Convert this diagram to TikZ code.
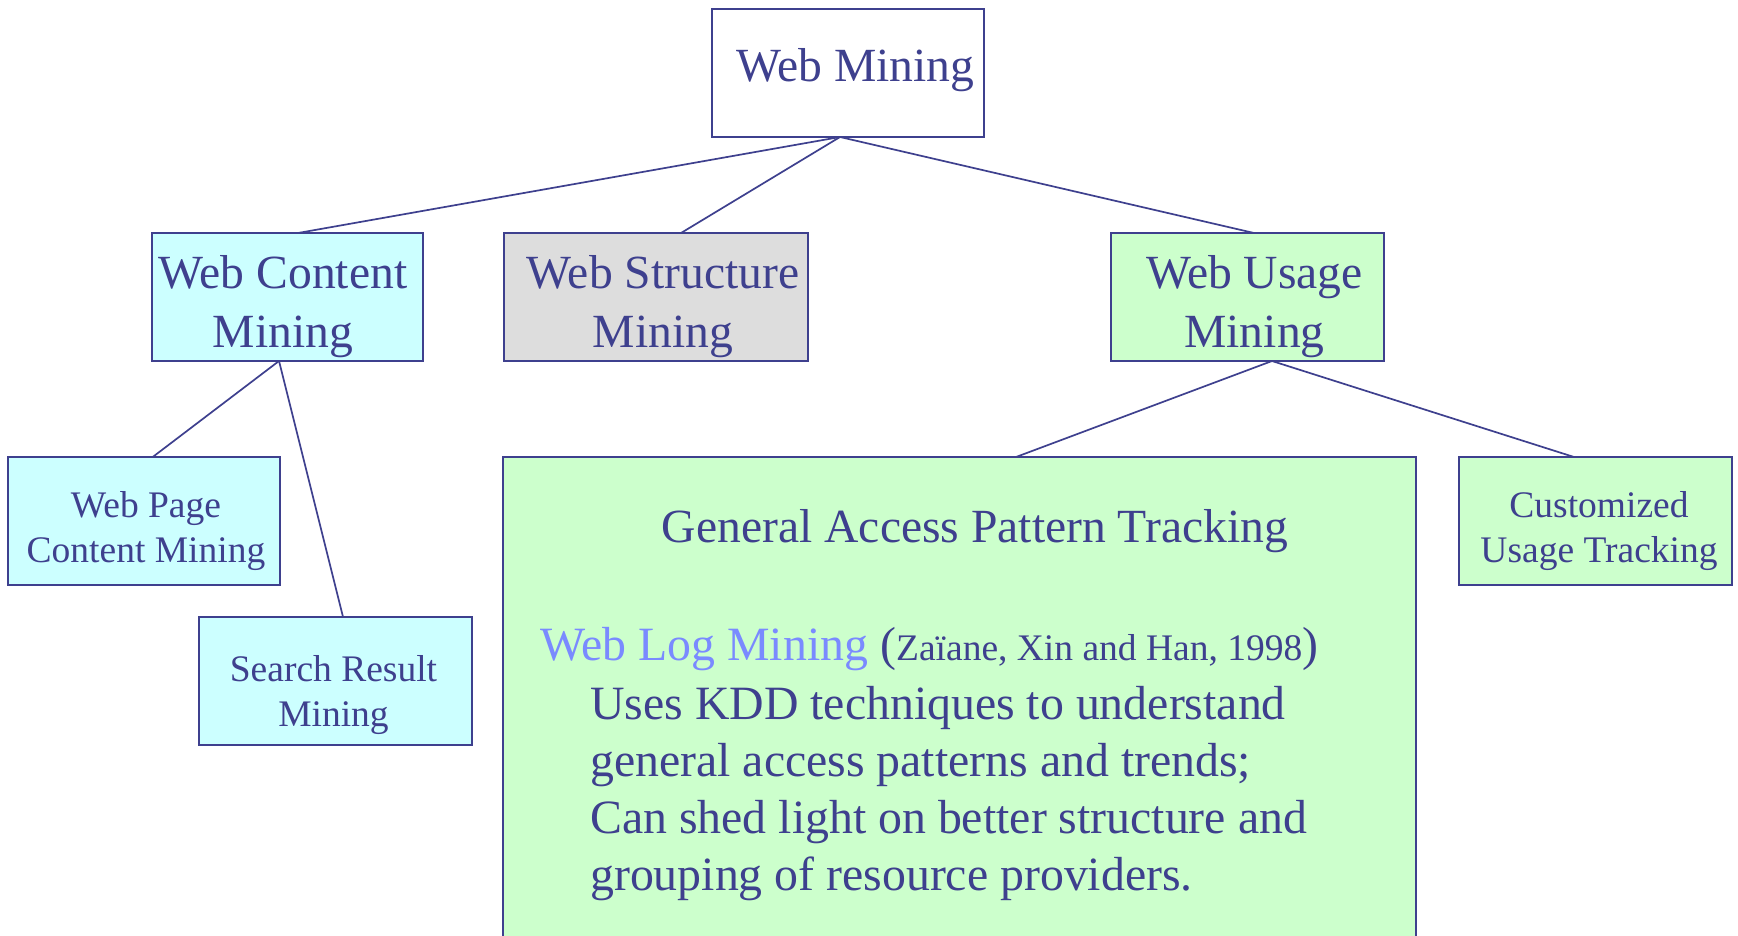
\documentclass[tikz,border=0pt]{standalone}
\usepackage{fontspec}
\setmainfont{Liberation Serif}
\definecolor{ink}{RGB}{62,64,142}
\definecolor{logblue}{RGB}{122,138,255}
\definecolor{cyanfill}{RGB}{204,255,255}
\definecolor{greyfill}{RGB}{221,221,221}
\definecolor{greenfill}{RGB}{204,255,204}
\begin{document}
\begin{tikzpicture}[x=1pt,y=-1pt,
  box/.style={draw=ink,line width=1.8pt,inner sep=0pt,outer sep=0pt,rectangle},
  link/.style={draw=ink,line width=1.7pt},
  bigtext/.style={font=\fontsize{47.6}{59}\selectfont,text=ink,align=center,inner sep=0pt,anchor=base},
  smalltext/.style={font=\fontsize{37.5}{45}\selectfont,text=ink,align=center,inner sep=0pt,anchor=base}]
\useasboundingbox (0,0) rectangle (1738,935);
\fill[white] (0,0) rectangle (1738,935);
% boxes
\node[box,fill=white,minimum width=272pt,minimum height=128pt] (wm) at (848,73) {};
\node[box,fill=cyanfill,minimum width=271pt,minimum height=128pt] (wcm) at (287.5,297) {};
\node[box,fill=greyfill,minimum width=304pt,minimum height=128pt] (wsm) at (656,297) {};
\node[box,fill=greenfill,minimum width=273pt,minimum height=128pt] (wum) at (1247.5,297) {};
\node[box,fill=cyanfill,minimum width=272pt,minimum height=128pt] (wpc) at (144,521) {};
\node[box,fill=cyanfill,minimum width=273pt,minimum height=128pt] (srm) at (335.5,681) {};
\node[box,fill=greenfill,minimum width=913pt,minimum height=508pt] (gap) at (959.5,711) {};
\node[box,fill=greenfill,minimum width=273pt,minimum height=128pt] (cut) at (1595.5,521) {};
% connectors
\draw[link] ([xshift=-8pt]wm.south) -- ([xshift=10.5pt]wcm.north);
\draw[link] ([xshift=-8pt]wm.south) -- ([xshift=25pt]wsm.north);
\draw[link] ([xshift=-8pt]wm.south) -- ([xshift=6.5pt]wum.north);
\draw[link] ([xshift=-8.5pt]wcm.south) -- ([xshift=8.7pt]wpc.north);
\draw[link] ([xshift=-8.5pt]wcm.south) -- ([xshift=7.5pt]srm.north);
\draw[link] ([xshift=24.5pt]wum.south) -- ([xshift=56.5pt]gap.north);
\draw[link] ([xshift=24.5pt]wum.south) -- ([xshift=-21.5pt]cut.north);
% texts (base anchor = baseline of the last line)
\node[bigtext] (wmt) at (855.5,81) {Web Mining};
\node[bigtext] (wcmt) at (283,347) {Web Content\\Mining};
\node[bigtext] (wsmt) at (663,347) {Web Structure\\Mining};
\node[bigtext] (wumt) at (1254.5,347) {Web Usage\\Mining};
\node[smalltext] (wpct) at (146,562) {Web Page\\Content Mining};
\node[smalltext] (srmt) at (333.5,726) {Search Result\\Mining};
\node[smalltext] (cutt) at (1599,562) {Customized\\Usage Tracking};
\node[bigtext] (gapt) at (975,542) {General Access Pattern Tracking};
\node[anchor=base west,inner sep=0pt,text=logblue,font=\fontsize{47.8}{59}\selectfont] (wlm) at (540,660)
  {Web Log Mining {\color{ink}(\fontsize{37.5}{45}\selectfont Zaïane, Xin and Han, 1998\fontsize{47.8}{59}\selectfont)}};
\node[anchor=base west,align=left,inner sep=0pt,text=ink,font=\fontsize{47.8}{57}\selectfont] (body) at (590,890)
  {Uses KDD techniques to understand\\general access patterns and trends;\\Can shed light on better structure and\\grouping of resource providers.};
\end{tikzpicture}
\end{document}
